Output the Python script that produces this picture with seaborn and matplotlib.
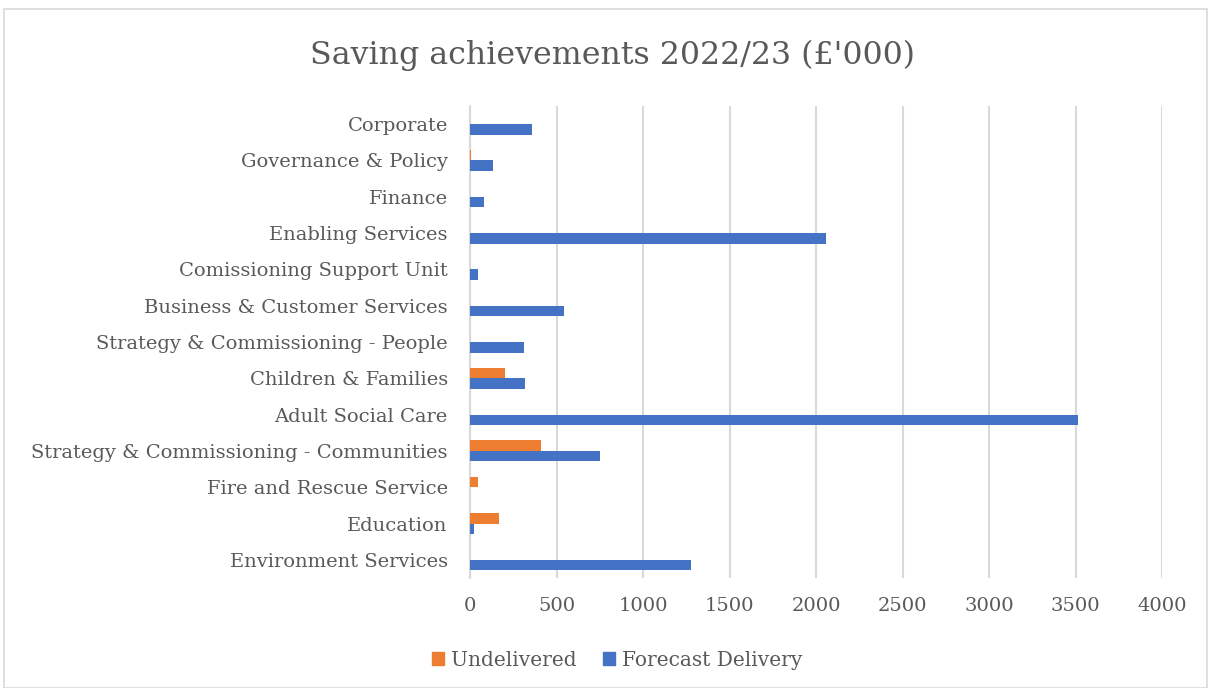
import matplotlib
matplotlib.use("Agg")
import matplotlib.pyplot as plt
import seaborn as sns
import pandas as pd
from matplotlib.patches import Rectangle

categories = [
    "Corporate",
    "Governance & Policy",
    "Finance",
    "Enabling Services",
    "Comissioning Support Unit",
    "Business & Customer Services",
    "Strategy & Commissioning - People",
    "Children & Families",
    "Adult Social Care",
    "Strategy & Commissioning - Communities",
    "Fire and Rescue Service",
    "Education",
    "Environment Services",
]
undelivered = [0, 3, 0, 0, 0, 0, 0, 202, 0, 408, 46, 166, 0]
forecast_delivery = [358, 133, 81, 2058, 46, 543, 312, 318, 3515, 752, 0, 23, 1280]
series_names = ["Undelivered", "Forecast Delivery"]
x_ticks = [0, 500, 1000, 1500, 2000, 2500, 3000, 3500, 4000]
title = "Saving achievements 2022/23 (£'000)"

colors = ["#ED7D31", "#4472C4"]
text_color = "#595959"
grid_color = "#d9d9d9"

df = pd.concat([
    pd.DataFrame({"category": categories, "value": undelivered, "series": series_names[0]}),
    pd.DataFrame({"category": categories, "value": forecast_delivery, "series": series_names[1]}),
])

sns.set_theme(style="white")
plt.rcParams["font.family"] = ["DejaVu Serif"]

fig = plt.figure(figsize=(12.08, 6.88), dpi=100)
ax = fig.add_axes([470 / 1208, 1 - 578 / 688, (1162 - 470) / 1208, (578 - 106) / 688])

sns.barplot(data=df, y="category", x="value", hue="series", order=categories,
            hue_order=series_names, palette=colors, orient="h", width=0.58,
            gap=0, saturation=1, linewidth=0, ax=ax, legend=False)

ax.set_xlim(0, 4000)
ax.set_ylim(len(categories) - 0.5, -0.5)
ax.set_xticks(x_ticks)
ax.set_xticklabels([str(t) for t in x_ticks])
ax.grid(axis="x", color=grid_color, linewidth=1.5)
ax.set_axisbelow(True)
# full-width zero line (the edge gridline is otherwise half clipped)
ax.axvline(0, color=grid_color, linewidth=1.5, clip_on=False, zorder=0.5)
for s in ax.spines.values():
    s.set_visible(False)
ax.set_xlabel("")
ax.set_ylabel("")
ax.tick_params(axis="both", length=0, labelsize=14, colors=text_color)
ax.tick_params(axis="y", pad=16)
ax.tick_params(axis="x", pad=14)

fig.text(612 / 1208, 1 - 55 / 688, title, ha="center", va="center", fontsize=22.8, color=text_color)

# legend
handles = [Rectangle((0, 0), 1, 1, color=c) for c in colors]
fig.legend(handles, series_names, loc="center", bbox_to_anchor=(617 / 1208, 1 - 660 / 688),
           ncol=2, frameon=False, fontsize=14.5, labelcolor=text_color,
           handlelength=0.6, handleheight=0.6, handletextpad=0.35, columnspacing=1.3)

# chart border
fig.add_artist(Rectangle((4 / 1208, 0), 1 - 5 / 1208, 1 - 9 / 688, transform=fig.transFigure,
                         fill=False, edgecolor=grid_color, linewidth=1.2))

fig.savefig("out.png", dpi=100)
